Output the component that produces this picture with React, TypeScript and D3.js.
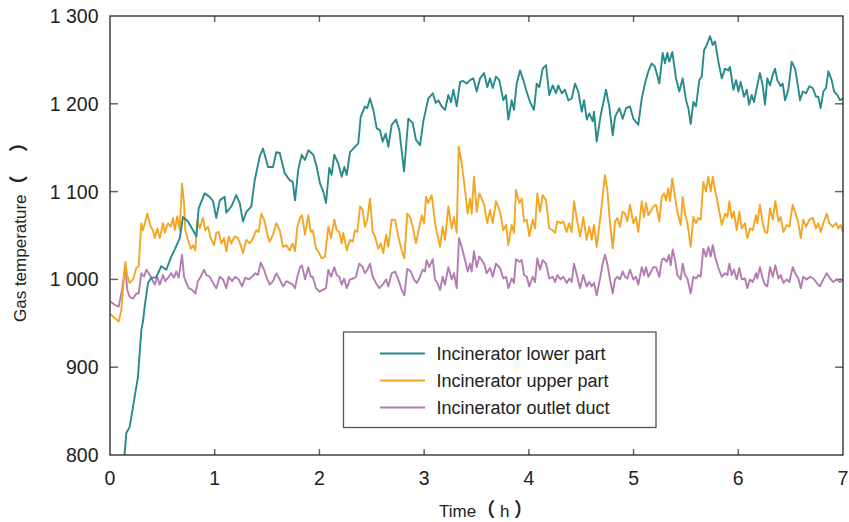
import React, { useEffect, useRef } from 'react';
import * as d3 from 'd3';

// [time (h), temperature]
const lowerPart: [number, number][] = [
  [0, 620], [0.08, 700], [0.12, 775], [0.140, 802], [0.156, 825], [0.188, 832], [0.220, 855], [0.267, 889], [0.299, 942], [0.315, 952], [0.331, 969], [0.363, 996], [0.394, 1002], [0.439, 1002], [0.490, 1015], [0.538, 1011], [0.585, 1026], [0.618, 1034], [0.666, 1047], [0.697, 1071], [0.745, 1066], [0.793, 1056], [0.824, 1049], [0.847, 1081], [0.904, 1098], [0.952, 1094], [0.984, 1089], [1.015, 1070], [1.048, 1090], [1.095, 1094], [1.111, 1076], [1.158, 1083], [1.206, 1096], [1.239, 1087], [1.270, 1066], [1.302, 1077], [1.349, 1083], [1.382, 1113], [1.430, 1140], [1.461, 1149], [1.509, 1128], [1.557, 1128], [1.588, 1145], [1.621, 1144], [1.668, 1121], [1.716, 1113], [1.745, 1111], [1.767, 1090], [1.798, 1125], [1.831, 1142], [1.862, 1136], [1.894, 1147], [1.942, 1142], [1.974, 1128], [2.006, 1109], [2.037, 1100], [2.063, 1087], [2.094, 1127], [2.117, 1119], [2.142, 1142], [2.180, 1132], [2.213, 1117], [2.238, 1128], [2.261, 1119], [2.292, 1145], [2.340, 1151], [2.371, 1155], [2.394, 1185], [2.435, 1197], [2.457, 1195], [2.483, 1206], [2.515, 1193], [2.547, 1172], [2.578, 1170], [2.604, 1157], [2.633, 1166], [2.658, 1151], [2.690, 1176], [2.731, 1182], [2.763, 1170], [2.808, 1123], [2.849, 1183], [2.891, 1178], [2.922, 1159], [2.961, 1153], [2.992, 1180], [3.040, 1206], [3.082, 1212], [3.111, 1201], [3.135, 1204], [3.168, 1197], [3.199, 1193], [3.231, 1210], [3.257, 1202], [3.279, 1216], [3.311, 1197], [3.343, 1225], [3.374, 1226], [3.407, 1223], [3.438, 1227], [3.470, 1229], [3.502, 1214], [3.534, 1229], [3.572, 1235], [3.603, 1219], [3.629, 1229], [3.655, 1218], [3.686, 1231], [3.718, 1227], [3.756, 1204], [3.782, 1210], [3.804, 1182], [3.836, 1204], [3.858, 1193], [3.884, 1223], [3.916, 1238], [3.947, 1227], [3.973, 1216], [4.011, 1202], [4.049, 1193], [4.075, 1223], [4.100, 1219], [4.132, 1240], [4.164, 1244], [4.195, 1210], [4.228, 1221], [4.259, 1212], [4.281, 1221], [4.314, 1212], [4.345, 1216], [4.377, 1204], [4.409, 1206], [4.441, 1223], [4.472, 1214], [4.505, 1191], [4.527, 1204], [4.553, 1182], [4.577, 1189], [4.610, 1180], [4.622, 1191], [4.648, 1157], [4.686, 1187], [4.737, 1216], [4.768, 1197], [4.801, 1164], [4.823, 1185], [4.864, 1195], [4.896, 1183], [4.928, 1195], [4.966, 1197], [4.998, 1183], [5.045, 1176], [5.078, 1206], [5.109, 1223], [5.141, 1237], [5.173, 1246], [5.205, 1242], [5.246, 1223], [5.278, 1258], [5.300, 1246], [5.322, 1258], [5.341, 1248], [5.370, 1259], [5.405, 1229], [5.437, 1214], [5.469, 1229], [5.501, 1204], [5.523, 1195], [5.546, 1177], [5.571, 1202], [5.596, 1197], [5.628, 1227], [5.651, 1231], [5.673, 1261], [5.699, 1267], [5.730, 1277], [5.756, 1267], [5.778, 1271], [5.810, 1248], [5.842, 1229], [5.874, 1240], [5.905, 1238], [5.921, 1242], [5.953, 1216], [5.979, 1227], [6.001, 1214], [6.023, 1225], [6.055, 1208], [6.081, 1216], [6.103, 1199], [6.128, 1210], [6.150, 1202], [6.176, 1218], [6.207, 1235], [6.233, 1221], [6.255, 1199], [6.277, 1229], [6.303, 1221], [6.329, 1233], [6.351, 1240], [6.373, 1227], [6.405, 1220], [6.424, 1223], [6.447, 1204], [6.478, 1216], [6.510, 1248], [6.542, 1240], [6.564, 1225], [6.590, 1204], [6.615, 1214], [6.647, 1212], [6.679, 1220], [6.711, 1218], [6.742, 1208], [6.764, 1208], [6.787, 1195], [6.812, 1214], [6.838, 1218], [6.860, 1237], [6.892, 1227], [6.915, 1214], [6.946, 1210], [6.972, 1204], [7.0, 1206],
];

const upperPart: [number, number][] = [
  [0, 961], [0.045, 956], [0.083, 952], [0.108, 965], [0.146, 1020], [0.165, 1004], [0.188, 996], [0.220, 1000], [0.251, 1013], [0.274, 1015], [0.299, 1064], [0.315, 1056], [0.337, 1066], [0.356, 1075], [0.389, 1060], [0.411, 1056], [0.427, 1047], [0.452, 1058], [0.475, 1047], [0.506, 1064], [0.522, 1053], [0.554, 1064], [0.580, 1060], [0.602, 1070], [0.618, 1056], [0.643, 1072], [0.666, 1056], [0.688, 1109], [0.707, 1087], [0.719, 1056], [0.745, 1045], [0.771, 1035], [0.793, 1039], [0.815, 1033], [0.834, 1068], [0.857, 1058], [0.888, 1070], [0.910, 1056], [0.936, 1060], [0.962, 1047], [0.993, 1039], [1.015, 1053], [1.038, 1054], [1.063, 1041], [1.089, 1047], [1.111, 1032], [1.134, 1049], [1.158, 1041], [1.191, 1049], [1.222, 1047], [1.248, 1039], [1.270, 1030], [1.302, 1045], [1.334, 1041], [1.366, 1047], [1.397, 1056], [1.420, 1054], [1.445, 1075], [1.477, 1066], [1.502, 1051], [1.525, 1043], [1.557, 1051], [1.588, 1064], [1.621, 1056], [1.652, 1037], [1.684, 1039], [1.716, 1033], [1.745, 1041], [1.767, 1032], [1.789, 1060], [1.815, 1070], [1.834, 1073], [1.862, 1051], [1.894, 1073], [1.917, 1054], [1.936, 1056], [1.967, 1035], [1.989, 1032], [2.022, 1024], [2.053, 1026], [2.085, 1060], [2.111, 1047], [2.142, 1068], [2.165, 1056], [2.190, 1054], [2.213, 1041], [2.228, 1053], [2.261, 1033], [2.292, 1045], [2.318, 1043], [2.340, 1056], [2.362, 1054], [2.388, 1083], [2.413, 1079], [2.435, 1060], [2.457, 1068], [2.483, 1092], [2.509, 1054], [2.531, 1049], [2.562, 1035], [2.585, 1041], [2.610, 1030], [2.636, 1051], [2.658, 1037], [2.690, 1068], [2.722, 1068], [2.753, 1049], [2.786, 1033], [2.811, 1024], [2.839, 1075], [2.865, 1071], [2.891, 1060], [2.922, 1041], [2.944, 1054], [2.977, 1073], [2.999, 1064], [3.018, 1094], [3.040, 1087], [3.072, 1096], [3.104, 1064], [3.126, 1051], [3.152, 1037], [3.177, 1060], [3.199, 1045], [3.231, 1083], [3.263, 1058], [3.285, 1071], [3.311, 1053], [3.330, 1151], [3.359, 1132], [3.390, 1102], [3.416, 1075], [3.438, 1092], [3.454, 1075], [3.476, 1117], [3.502, 1077], [3.527, 1098], [3.550, 1092], [3.572, 1085], [3.603, 1064], [3.629, 1079], [3.655, 1064], [3.686, 1089], [3.725, 1077], [3.756, 1056], [3.782, 1062], [3.804, 1039], [3.836, 1062], [3.858, 1053], [3.877, 1102], [3.909, 1087], [3.932, 1092], [3.954, 1066], [3.980, 1068], [4.004, 1049], [4.037, 1068], [4.059, 1058], [4.081, 1098], [4.107, 1077], [4.132, 1096], [4.164, 1090], [4.195, 1058], [4.228, 1056], [4.250, 1053], [4.272, 1066], [4.304, 1064], [4.329, 1066], [4.361, 1054], [4.386, 1064], [4.409, 1054], [4.431, 1089], [4.462, 1066], [4.489, 1049], [4.520, 1071], [4.552, 1045], [4.577, 1060], [4.600, 1045], [4.622, 1062], [4.648, 1037], [4.680, 1068], [4.705, 1094], [4.727, 1119], [4.749, 1102], [4.775, 1064], [4.801, 1035], [4.823, 1066], [4.845, 1070], [4.870, 1060], [4.896, 1077], [4.918, 1075], [4.940, 1066], [4.966, 1085], [4.998, 1064], [5.023, 1071], [5.045, 1054], [5.078, 1089], [5.100, 1071], [5.119, 1087], [5.141, 1073], [5.189, 1083], [5.214, 1085], [5.246, 1066], [5.269, 1094], [5.291, 1098], [5.310, 1090], [5.332, 1104], [5.348, 1089], [5.370, 1115], [5.396, 1094], [5.418, 1077], [5.450, 1062], [5.469, 1094], [5.491, 1075], [5.514, 1064], [5.546, 1037], [5.571, 1071], [5.596, 1064], [5.618, 1070], [5.641, 1068], [5.666, 1111], [5.692, 1100], [5.714, 1117], [5.737, 1100], [5.756, 1117], [5.778, 1102], [5.810, 1083], [5.842, 1062], [5.874, 1075], [5.896, 1071], [5.915, 1089], [5.937, 1070], [5.959, 1077], [5.985, 1056], [6.010, 1077], [6.033, 1058], [6.064, 1064], [6.086, 1047], [6.112, 1058], [6.138, 1056], [6.169, 1073], [6.182, 1064], [6.207, 1085], [6.233, 1064], [6.255, 1054], [6.277, 1053], [6.303, 1081], [6.329, 1068], [6.354, 1089], [6.383, 1066], [6.405, 1071], [6.431, 1054], [6.463, 1062], [6.488, 1060], [6.520, 1085], [6.552, 1073], [6.574, 1064], [6.597, 1047], [6.621, 1068], [6.647, 1060], [6.679, 1068], [6.711, 1070], [6.742, 1058], [6.764, 1064], [6.787, 1054], [6.812, 1064], [6.845, 1075], [6.869, 1064], [6.902, 1060], [6.933, 1064], [6.955, 1058], [6.978, 1062], [7.0, 1054],
];

const outletDuct: [number, number][] = [
  [0, 975], [0.045, 971], [0.083, 969], [0.115, 988], [0.146, 1015], [0.165, 988], [0.188, 980], [0.220, 978], [0.251, 984], [0.274, 984], [0.299, 1007], [0.325, 1003], [0.347, 1011], [0.370, 1007], [0.394, 1002], [0.427, 994], [0.452, 1003], [0.475, 994], [0.506, 1005], [0.528, 998], [0.561, 1003], [0.585, 1007], [0.611, 1002], [0.633, 1009], [0.656, 1002], [0.688, 1028], [0.707, 1003], [0.729, 996], [0.752, 990], [0.783, 988], [0.815, 984], [0.840, 998], [0.866, 1003], [0.898, 1011], [0.920, 1005], [0.952, 1003], [0.984, 996], [1.015, 990], [1.048, 1003], [1.079, 1000], [1.111, 990], [1.134, 1003], [1.165, 998], [1.197, 1003], [1.229, 1000], [1.261, 992], [1.292, 1002], [1.325, 1000], [1.356, 1003], [1.388, 1007], [1.413, 1005], [1.439, 1019], [1.471, 1011], [1.493, 1003], [1.525, 994], [1.557, 998], [1.588, 1007], [1.621, 1000], [1.652, 992], [1.684, 998], [1.716, 996], [1.745, 994], [1.767, 990], [1.789, 1003], [1.815, 1014], [1.834, 1016], [1.862, 1000], [1.894, 1014], [1.917, 1003], [1.936, 1003], [1.967, 990], [1.999, 986], [2.031, 988], [2.063, 990], [2.085, 1011], [2.111, 1003], [2.142, 1014], [2.165, 1005], [2.190, 1003], [2.213, 994], [2.235, 1001], [2.261, 990], [2.292, 1000], [2.324, 1001], [2.349, 1003], [2.381, 1018], [2.413, 1014], [2.435, 1007], [2.457, 1011], [2.483, 1018], [2.509, 1003], [2.540, 996], [2.572, 990], [2.604, 994], [2.636, 1000], [2.658, 992], [2.690, 1007], [2.722, 1009], [2.753, 1000], [2.786, 988], [2.811, 982], [2.839, 1012], [2.872, 1009], [2.903, 1000], [2.929, 996], [2.954, 1001], [2.986, 1011], [3.008, 1009], [3.024, 1022], [3.049, 1014], [3.082, 1023], [3.104, 1000], [3.126, 996], [3.152, 988], [3.177, 1003], [3.199, 994], [3.231, 1014], [3.263, 1000], [3.285, 1007], [3.311, 990], [3.333, 1047], [3.359, 1037], [3.390, 1022], [3.416, 1009], [3.438, 1018], [3.454, 1009], [3.476, 1032], [3.502, 1014], [3.527, 1026], [3.550, 1022], [3.572, 1018], [3.597, 1007], [3.629, 1013], [3.655, 1003], [3.686, 1018], [3.725, 1013], [3.756, 1001], [3.782, 1003], [3.804, 990], [3.836, 1001], [3.858, 996], [3.877, 1023], [3.909, 1020], [3.932, 1022], [3.954, 1005], [3.980, 1003], [4.004, 992], [4.037, 1003], [4.059, 997], [4.081, 1024], [4.107, 1011], [4.132, 1022], [4.164, 1018], [4.195, 1001], [4.228, 1003], [4.250, 997], [4.272, 1005], [4.304, 1000], [4.329, 1003], [4.361, 996], [4.386, 1001], [4.409, 997], [4.431, 1018], [4.462, 1003], [4.489, 990], [4.520, 1005], [4.552, 992], [4.577, 997], [4.600, 992], [4.622, 996], [4.648, 982], [4.680, 1001], [4.705, 1018], [4.727, 1028], [4.749, 1018], [4.775, 1000], [4.801, 984], [4.823, 1000], [4.845, 1003], [4.870, 1000], [4.896, 1009], [4.918, 1003], [4.940, 1001], [4.966, 1011], [4.998, 1000], [5.023, 1003], [5.045, 994], [5.078, 1014], [5.100, 1005], [5.119, 1014], [5.141, 1003], [5.189, 1014], [5.214, 1014], [5.246, 1003], [5.269, 1022], [5.291, 1024], [5.316, 1020], [5.338, 1028], [5.355, 1016], [5.374, 1034], [5.396, 1022], [5.418, 1005], [5.450, 1000], [5.469, 1018], [5.491, 1005], [5.514, 1001], [5.546, 984], [5.571, 1003], [5.596, 1001], [5.618, 1005], [5.641, 1003], [5.666, 1035], [5.692, 1026], [5.714, 1037], [5.737, 1026], [5.756, 1039], [5.778, 1026], [5.810, 1013], [5.842, 1003], [5.874, 1007], [5.896, 1005], [5.915, 1018], [5.937, 1005], [5.959, 1011], [5.985, 1000], [6.010, 1013], [6.033, 1000], [6.064, 1001], [6.086, 990], [6.112, 1000], [6.138, 997], [6.169, 1007], [6.182, 1001], [6.207, 1014], [6.233, 1001], [6.255, 994], [6.277, 992], [6.303, 1014], [6.329, 1003], [6.354, 1016], [6.383, 1001], [6.405, 1005], [6.431, 996], [6.463, 1000], [6.488, 997], [6.520, 1014], [6.552, 1005], [6.574, 1001], [6.597, 990], [6.621, 1003], [6.653, 1000], [6.685, 1003], [6.717, 1001], [6.749, 996], [6.780, 992], [6.812, 1000], [6.845, 1007], [6.876, 1001], [6.908, 997], [6.940, 1000], [6.972, 997], [7.0, 1000],
];

const seriesNames = ['Incinerator lower part', 'Incinerator upper part', 'Incinerator outlet duct'];
const seriesColors = ['#278b8b', '#f4a623', '#b47bb3'];
const xTicks = [0, 1, 2, 3, 4, 5, 6, 7];
const yTicks = [800, 900, 1000, 1100, 1200, 1300];

const FONT = '"Liberation Sans", Arial, "Noto Sans CJK SC", sans-serif';
const CJK = '"Noto Sans CJK SC", sans-serif';

export default function App() {
  const ref = useRef<SVGSVGElement>(null);

  useEffect(() => {
    const svg = d3.select(ref.current);
    svg.selectAll('*').remove();

    const left = 110, right = 843, top = 16, bottom = 455;
    const x = d3.scaleLinear().domain([0, 7]).range([left, right]);
    const y = d3.scaleLinear().domain([800, 1300]).range([bottom, top]);
    const fmt = d3.formatLocale({ decimal: '.', thousands: ' ', grouping: [3], currency: ['', ''] }).format(',');

    svg.append('defs').append('clipPath').attr('id', 'plotclip')
      .append('rect').attr('x', left).attr('y', top).attr('width', right - left).attr('height', bottom - top);

    // tick marks, all inward
    const tickG = svg.append('g').attr('stroke', '#666').attr('stroke-width', 1.5);
    yTicks.slice(1, -1).forEach(t => {
      tickG.append('line').attr('x1', left).attr('x2', left + 8).attr('y1', y(t)).attr('y2', y(t));
      tickG.append('line').attr('x1', right - 8).attr('x2', right).attr('y1', y(t)).attr('y2', y(t));
    });
    xTicks.slice(1, -1).forEach(t => {
      tickG.append('line').attr('x1', x(t)).attr('x2', x(t)).attr('y1', bottom).attr('y2', bottom - 6);
      tickG.append('line').attr('x1', x(t)).attr('x2', x(t)).attr('y1', top).attr('y2', top + 6);
    });

    // series
    const line = d3.line<[number, number]>().x(d => x(d[0])).y(d => y(d[1]));
    const plot = svg.append('g').attr('clip-path', 'url(#plotclip)');
    [outletDuct, upperPart, lowerPart].forEach((data, i) => {
      plot.append('path').datum(data)
        .attr('d', line)
        .attr('fill', 'none')
        .attr('stroke', seriesColors[2 - i])
        .attr('stroke-width', 1.9)
        .attr('stroke-linejoin', 'round');
    });

    // frame
    svg.append('rect').attr('x', left).attr('y', top).attr('width', right - left).attr('height', bottom - top)
      .attr('fill', 'none').attr('stroke', '#222').attr('stroke-width', 1.3);

    // tick labels
    svg.append('g').selectAll('text').data(yTicks).join('text')
      .attr('x', 98.5).attr('y', d => y(d)).attr('dy', '0.36em')
      .attr('text-anchor', 'end').attr('font-family', FONT).attr('font-size', 19.5).attr('fill', '#222')
      .text(d => fmt(d));
    svg.append('g').selectAll('text').data(xTicks).join('text')
      .attr('x', d => x(d)).attr('y', 485)
      .attr('text-anchor', 'middle').attr('font-family', FONT).attr('font-size', 19.5).attr('fill', '#222')
      .text(d => String(d));

    // axis titles (full-width brackets, unit glyph missing in the original)
    const xt = svg.append('text').attr('x', 439).attr('y', 517)
      .attr('font-family', FONT).attr('font-size', 17).attr('fill', '#222')
      .attr('xml:space', 'preserve').style('white-space', 'pre');
    xt.append('tspan').text('Time');
    xt.append('tspan').attr('font-family', CJK).attr('font-weight', 'bold').attr('font-size', 19).text('（');
    xt.append('tspan').text(' h ');
    xt.append('tspan').attr('font-family', CJK).attr('font-weight', 'bold').attr('font-size', 19).text('）');

    const yt = svg.append('text').attr('transform', 'translate(25.5, 322) rotate(-90)')
      .attr('font-family', FONT).attr('font-size', 17).attr('fill', '#222')
      .style('white-space', 'pre');
    yt.append('tspan').text('Gas temperature');
    yt.append('tspan').attr('font-family', CJK).attr('font-weight', 'bold').attr('font-size', 19).text('（\u3000 ）');

    // legend
    const lg = svg.append('g');
    lg.append('rect').attr('x', 343.5).attr('y', 332).attr('width', 312.5).attr('height', 95.5)
      .attr('fill', 'white').attr('stroke', '#555').attr('stroke-width', 1.3);
    seriesNames.forEach((name, i) => {
      const yy = 353.5 + i * 27;
      lg.append('line').attr('x1', 380).attr('x2', 425).attr('y1', yy).attr('y2', yy)
        .attr('stroke', seriesColors[i]).attr('stroke-width', 1.9);
      lg.append('text').attr('x', 436.5).attr('y', yy).attr('dy', '0.36em')
        .attr('font-family', FONT).attr('font-size', 18).attr('fill', '#222')
        .text(name);
    });
  }, []);

  return (
    <svg ref={ref} width={849} height={522} style={{ position: 'absolute', left: 0, top: 0, background: 'white' }} />
  );
}
